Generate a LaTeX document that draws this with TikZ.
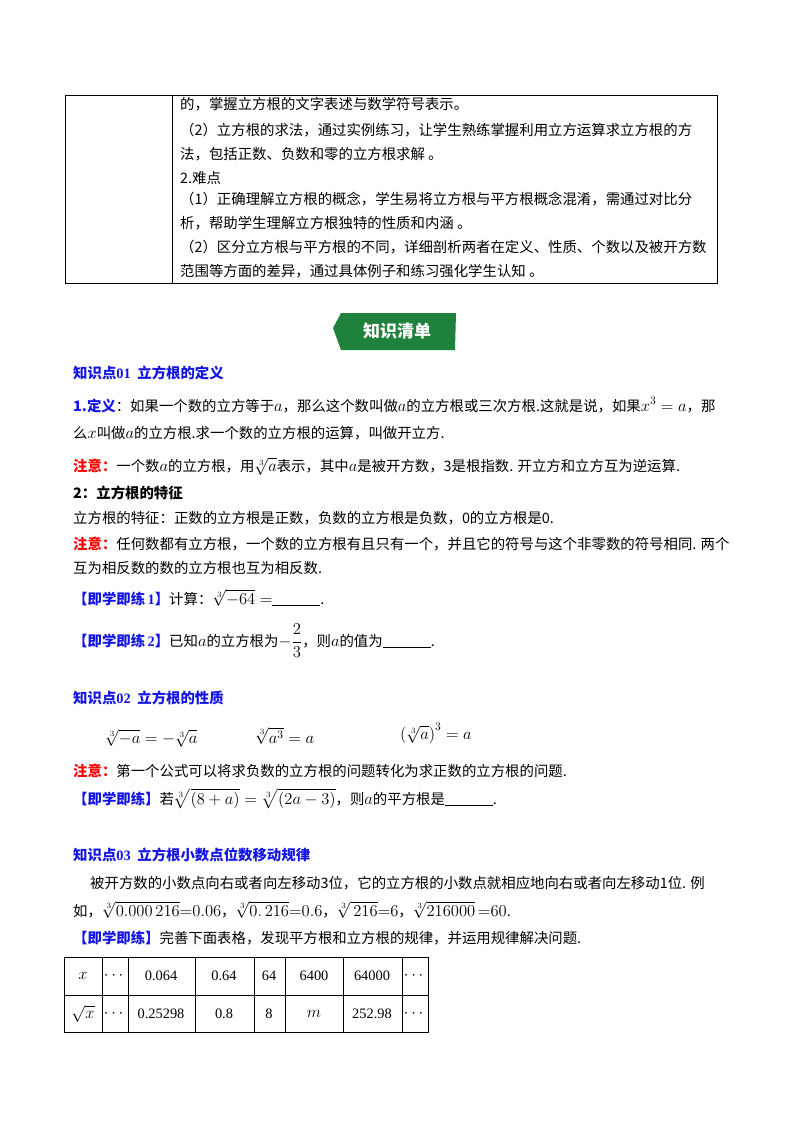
\documentclass[tikz,border=0pt]{standalone}
\usepackage{amsmath}
\usepackage{graphicx}
\usepackage{fontspec}
\setmainfont{Noto Sans CJK SC}
\newfontfamily\ser{Liberation Serif}
\definecolor{blu}{RGB}{20,20,230}
\definecolor{grn}{RGB}{30,130,60}
\newcommand{\M}[1]{\scalebox{1.15}{$#1$}}
\tikzset{tx/.style={anchor=base west,inner sep=0pt,font=\fontsize{14.4}{17}\selectfont},
 hd/.style={tx,text=blu,font=\fontsize{14.4}{17}\selectfont\bfseries},
 ln/.style={line width=0.8pt}}
\newcommand{\zy}{{\color{red}\bfseries 注意：}}
\newcommand{\lx}[1]{{\color{blu}\bfseries 【即学即练#1】}}
\newcommand{\bl}{\rule[-1.5pt]{48pt}{0.8pt}}
\begin{document}
\begin{tikzpicture}[x=1pt,y=-1pt]
\useasboundingbox (0,0) rectangle (800,1132);
% top table
\draw[ln] (65,95) rectangle (717,283);
\draw[ln] (172,95) -- (172,283);
\node[tx] (t1) at (180,109) {的，掌握立方根的文字表述与数学符号表示。};
\node[tx] (t2) at (180,135) {（2）立方根的求法，通过实例练习，让学生熟练掌握利用立方运算求立方根的方};
\node[tx] (t3) at (180,159) {法，包括正数、负数和零的立方根求解 。};
\node[tx] (t4) at (180,183) {2.难点};
\node[tx] (t5) at (180,204) {（1）正确理解立方根的概念，学生易将立方根与平方根概念混淆，需通过对比分};
\node[tx] (t6) at (180,228) {析，帮助学生理解立方根独特的性质和内涵 。};
\node[tx] (t7) at (180,252) {（2）区分立方根与平方根的不同，详细剖析两者在定义、性质、个数以及被开方数};
\node[tx] (t8) at (180,276) {范围等方面的差异，通过具体例子和练习强化学生认知 。};
% banner
\fill[grn] (341,313) -- (456,313) -- (455,350) -- (341,350) -- (333,328) -- cycle;
\node[text=white,font=\fontsize{17}{20}\selectfont\bfseries] (ban) at (397,331) {知识清单};
% section 1
\node[hd] (h1) at (73,378) {知识点{\ser 01} \ 立方根的定义};
\node[tx] (a1) at (73,411) {{\color{blu}\bfseries 1.定义}：如果一个数的立方等于\M{a}，那么这个数叫做\M{a}的立方根或三次方根.这就是说，如果\M{x^3=a}，那};
\node[tx] (a2) at (73,438) {么\M{x}叫做\M{a}的立方根.求一个数的立方根的运算，叫做开立方.};
\node[tx] (a3) at (73,471) {\zy 一个数\M{a}的立方根，用\M{\sqrt[3]{a}}表示，其中\M{a}是被开方数，3是根指数. 开立方和立方互为逆运算.};
\node[tx,font=\fontsize{14.4}{17}\selectfont\bfseries] (a4) at (73,498) {2：立方根的特征};
\node[tx] (a5) at (73,523) {立方根的特征：正数的立方根是正数，负数的立方根是负数，0的立方根是0.};
\node[tx] (a6) at (73,549) {\zy 任何数都有立方根，一个数的立方根有且只有一个，并且它的符号与这个非零数的符号相同. 两个};
\node[tx] (a7) at (73,573) {互为相反数的数的立方根也互为相反数.};
\node[tx] (a8) at (73,604) {\lx{\,{\ser 1}}计算：\M{\sqrt[3]{-64}=}\bl.};
\node[tx] (a9) at (73,646) {\lx{\,{\ser 2}}已知\M{a}的立方根为\M{-\dfrac{2}{3}}，则\M{a}的值为\bl.};
% section 2
\node[hd] (h2) at (73,703) {知识点{\ser 02} \ 立方根的性质};
\node[tx] (f1) at (105,743) {\M{\sqrt[3]{-a}=-\sqrt[3]{a}}};
\node[tx] (f2) at (255,743) {\M{\sqrt[3]{a^3}=a}};
\node[tx] (f3) at (400,739) {\M{\left(\sqrt[3]{a}\right)^3=a}};
\node[tx] (b1) at (73,776) {\zy 第一个公式可以将求负数的立方根的问题转化为求正数的立方根的问题.};
\node[tx] (b2) at (73,804) {\lx{}若\M{\sqrt[3]{(8+a)}=\sqrt[3]{(2a-3)}}，则\M{a}的平方根是\bl.};
% section 3
\node[hd] (h3) at (73,860) {知识点{\ser 03} \ 立方根小数点位数移动规律};
\node[tx] (c1) at (90,888) {被开方数的小数点向右或者向左移动3位，它的立方根的小数点就相应地向右或者向左移动1位. 例};
\node[tx] (c2) at (73,916) {如，\M{\sqrt[3]{0.000\,216}{=}0.06}，\M{\sqrt[3]{0.\,216}{=}0.6}，\M{\sqrt[3]{\,216}{=}6}，\M{\sqrt[3]{216000}\,{=}60}.};
\node[tx] (c3) at (73,943) {\lx{}完善下面表格，发现平方根和立方根的规律，并运用规律解决问题.};
% bottom table
\draw[ln] (64,957) rectangle (428,1032);
\draw[ln] (64,995) -- (428,995);
\foreach \c in {102,128,195,254,285,343,402} \draw[ln] (\c,957) -- (\c,1032);
\tikzset{cl/.style={font=\fontsize{14.4}{17}\selectfont\ser,inner sep=0pt}}
\foreach \x/\t [count=\i] in {83/\M{x},115/\M{\cdots},161/0.064,224/0.64,269/64,314/6400,372/64000,415/\M{\cdots}}
  \node[cl] (r1c\i) at (\x,976) {\t};
\foreach \x/\t [count=\i] in {83/\M{\sqrt{x}},115/\M{\cdots},161/0.25298,224/0.8,269/8,314/\M{m},372/252.98,415/\M{\cdots}}
  \node[cl] (r2c\i) at (\x,1014) {\t};
\end{tikzpicture}
\end{document}
